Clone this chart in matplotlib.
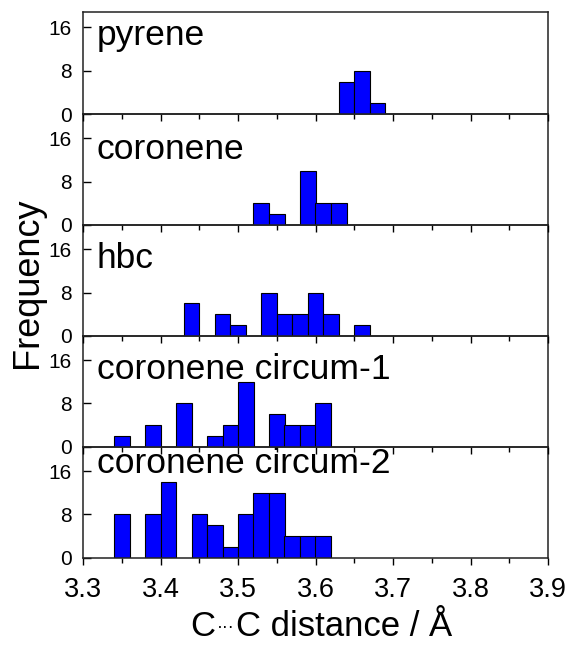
import matplotlib
matplotlib.use("Agg")
import matplotlib.pyplot as plt
from matplotlib.ticker import MultipleLocator, FixedLocator
from matplotlib.offsetbox import TextArea, HPacker, AnchoredOffsetbox

plt.rcParams['font.family'] = ['Liberation Sans', 'DejaVu Sans']

# ---- data (bin centres in Å, counts) ----
panel_names = ["pyrene", "coronene", "hbc", "coronene circum-1", "coronene circum-2"]

pyrene_x = [3.64, 3.66, 3.68]
pyrene_y = [6, 8, 2]

coronene_x = [3.53, 3.55, 3.59, 3.61, 3.63]
coronene_y = [4, 2, 10, 4, 4]

hbc_x = [3.44, 3.48, 3.50, 3.54, 3.56, 3.58, 3.60, 3.62, 3.66]
hbc_y = [6, 4, 2, 8, 4, 4, 8, 4, 2]

circ1_x = [3.35, 3.39, 3.43, 3.47, 3.49, 3.51, 3.55, 3.57, 3.59, 3.61]
circ1_y = [2, 4, 8, 2, 4, 12, 6, 4, 4, 8]

circ2_x = [3.35, 3.39, 3.41, 3.45, 3.47, 3.49, 3.51, 3.53, 3.55, 3.57, 3.59, 3.61]
circ2_y = [8, 8, 14, 8, 6, 2, 8, 12, 12, 4, 4, 4]

bin_width = 0.02
x_ticks = [3.3, 3.4, 3.5, 3.6, 3.7, 3.8, 3.9]
x_tick_labels = ["3.3", "3.4", "3.5", "3.6", "3.7", "3.8", "3.9"]
y_ticks = [0, 8, 16]
y_tick_labels = ["0", "8", "16"]

series = [(pyrene_x, pyrene_y), (coronene_x, coronene_y), (hbc_x, hbc_y),
          (circ1_x, circ1_y), (circ2_x, circ2_y)]
ytops = [18.8, 20.5, 20.5, 20.5, 20.5]
label_offsets_px = [32.7, 44.6, 42.6, 43.4, 26.7]

W, H = 568, 647
fig = plt.figure(figsize=(W / 100, H / 100), dpi=100)
gs = fig.add_gridspec(5, 1, height_ratios=ytops, hspace=0,
                      left=83 / W, right=548 / W,
                      top=1 - 12.3 / H, bottom=1 - 557.7 / H)

axes = []
for i, ((xs, ys), name) in enumerate(zip(series, panel_names)):
    ax = fig.add_subplot(gs[i])
    ax.set_facecolor('none')
    ax.set_zorder(10 - i)
    axes.append(ax)
    ax.bar(xs, ys, width=bin_width, color="#0000FF", edgecolor="black",
           linewidth=0.8, align="center", zorder=2)
    ax.set_xlim(3.3, 3.9)
    ax.set_ylim(0, ytops[i])
    ax.xaxis.set_major_locator(FixedLocator(x_ticks))
    ax.xaxis.set_minor_locator(MultipleLocator(0.05))
    ax.yaxis.set_major_locator(FixedLocator(y_ticks))
    ax.set_yticklabels(y_tick_labels)
    ax.tick_params(axis='x', which='major', direction='out', length=5,
                   width=1.0, labelsize=19.5, pad=9)
    ax.tick_params(axis='x', which='minor', direction='out', length=3.5,
                   width=1.0)
    ax.tick_params(axis='y', which='major', direction='in', length=6,
                   width=1.0, labelsize=15, pad=8)
    if i < 4:
        ax.tick_params(axis='x', which='both', labelbottom=False)
    else:
        ax.set_xticklabels(x_tick_labels)
    for sp in ax.spines.values():
        sp.set_linewidth(1.1)
        sp.set_color("#222222")
    ax.annotate(name, xy=(0, 1), xycoords='axes fraction',
                xytext=(10, -label_offsets_px[i] * 0.72),
                textcoords='offset points', fontsize=25.5,
                ha='left', va='baseline')

fig.text(28 / W, 1 - 283 / H, "Frequency", rotation=90, fontsize=26,
         ha='center', va='center')

# x label: "C···C distance / Å" with small centred dots
t1 = TextArea("C", textprops=dict(fontsize=25))
t2 = TextArea("\u00b7\u00b7\u00b7", textprops=dict(fontsize=13))
t3 = TextArea("C distance / Å", textprops=dict(fontsize=25))
box = HPacker(children=[t1, t2, t3], align="center", pad=0, sep=1)
ab = AnchoredOffsetbox(loc='center', child=box, pad=0, borderpad=0,
                       frameon=False, bbox_to_anchor=(321 / W, 1 - 627 / H),
                       bbox_transform=fig.transFigure)
fig.add_artist(ab)

fig.savefig("out.png", dpi=100)
